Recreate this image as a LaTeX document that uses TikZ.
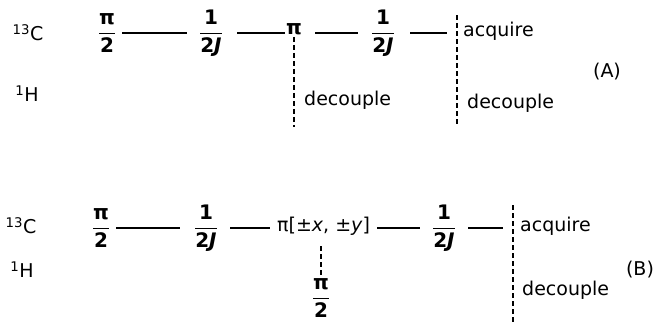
\documentclass[tikz,border=0pt]{standalone}
\usepackage{fontspec}
\usepackage{amsmath}
\setmainfont{DejaVu Sans}
\newcommand{\fr}[2]{{\fontsize{20}{23}\selectfont\bfseries$\dfrac{\text{#1}}{\text{#2}}$}}
\begin{document}
\begin{tikzpicture}[x=1pt,y=-1pt,
  font=\fontsize{19}{22}\selectfont,
  txt/.style={inner sep=0pt},
  seg/.style={line width=1.1pt},
  dsh/.style={line width=2.2pt, dash pattern=on 5pt off 3pt}]
\useasboundingbox (0,0) rectangle (654,322);
% ---------- (A) ----------
\node[txt] (cA) at (28,33) {\textsuperscript{13}C};
\node[txt] (hA) at (27,94) {\textsuperscript{1}H};
\node[txt] (p1) at (107,33) {\fr{π}{2}};
\node[txt] (j1) at (211,33) {\fr{1}{2\textit{J}}};
\node[txt,font=\fontsize{20}{23}\selectfont\bfseries] (pi1) at (294,29) {π};
\node[txt] (j2) at (383,33) {\fr{1}{2\textit{J}}};
\coordinate (aT) at (457,15);
\coordinate (aB) at (457,126);
\coordinate (dA) at (294,127);
\node[txt,anchor=west] (acqA) at (463,31) {acquire};
\node[txt,anchor=west] (dec1) at (304,100) {decouple};
\node[txt,anchor=west] (dec2) at (467,103) {decouple};
\node[txt] (labA) at (607,72) {(A)};
\draw[seg,shorten <=6pt,shorten >=12pt] (p1.east) -- (j1.west);
\draw[seg,shorten <=14pt,shorten >=1pt] (j1.east) -- (j1.east -| pi1.west);
\draw[seg,shorten <=13pt,shorten >=13pt] (pi1.east |- j2.west) -- (j2.west);
\draw[seg,shorten <=15pt,shorten >=10pt] (j2.east) -- (j2.east -| aT);
\draw[dsh,shorten <=2pt] (pi1.south) -- (dA);
\draw[dsh] (aT) -- (aB);
% ---------- (B) ----------
\node[txt] (cB) at (21,226) {\textsuperscript{13}C};
\node[txt] (hB) at (22,270) {\textsuperscript{1}H};
\node[txt] (p2) at (101,228) {\fr{π}{2}};
\node[txt] (j3) at (206,228) {\fr{1}{2\textit{J}}};
\node[txt,anchor=west] (piB) at (277,226) {π[±\textit{x}, ±\textit{y}]};
\node[txt] (j4) at (444,228) {\fr{1}{2\textit{J}}};
\node[txt] (p3) at (321,298) {\fr{π}{2}};
\coordinate (tB) at (321,246);
\coordinate (bT) at (513,205);
\coordinate (bB) at (513,322);
\node[txt,anchor=west] (acqB) at (520,226) {acquire};
\node[txt,anchor=west] (dec3) at (522,290) {decouple};
\node[txt] (labB) at (640,270) {(B)};
\draw[seg,shorten <=6pt,shorten >=14pt] (p2.east) -- (j3.west);
\draw[seg,shorten <=12pt,shorten >=7pt] (j3.east) -- (j3.east -| piB.west);
\draw[seg,shorten <=7pt,shorten >=12pt] (piB.east |- j4.west) -- (j4.west);
\draw[seg,shorten <=12pt,shorten >=10pt] (j4.east) -- (j4.east -| bT);
\draw[dsh,shorten >=1pt] (tB) -- (p3.north);
\draw[dsh] (bT) -- (bB);
\end{tikzpicture}
\end{document}
